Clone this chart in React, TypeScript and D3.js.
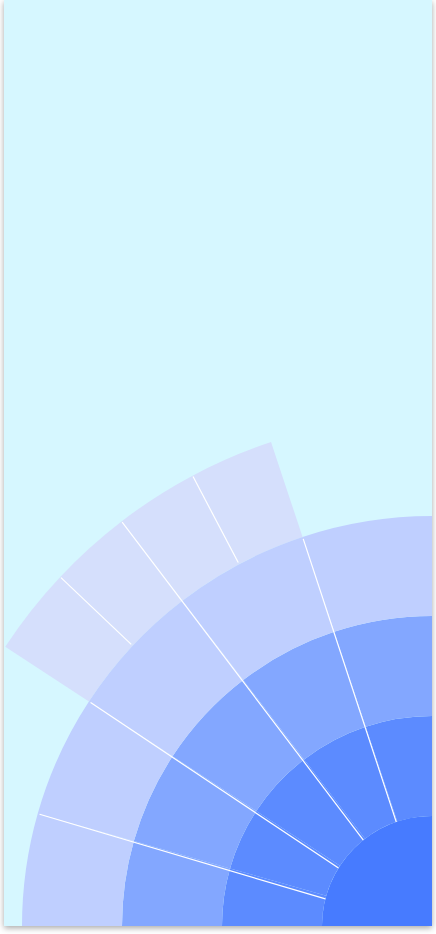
import React from "react";
import * as d3 from "d3";

// ---- data ----
const sectorNames = ["A", "B", "C", "D", "E", "Rest"];
const sectorValues = [15.9, 17.3, 19.3, 19.1, 18.4, 270];
const outerParents = ["C", "C", "D", "D"];
const outerValues = [10.0, 9.3, 9.5, 9.6];

// ---- layout ----
const W = 428;
const H = 926;
const ringRadii = [0, 110, 210, 310, 410, 510];
const pivotY = 4.5;
const coreColor = "#477bff";
const ringColors = ["#5c8bff", "#83a7ff", "#bfcfff"];
const outerColor = "#d5dffc";
const bg = "#d6f7ff";

export default function App() {
  const total = d3.sum(sectorValues);
  const span = d3.scaleLinear().domain([0, total]).range([0, 2 * Math.PI]);

  const pie = d3
    .pie<number>()
    .sort(null)
    .startAngle(-Math.PI / 2)
    .endAngle((3 * Math.PI) / 2);
  const sectors = pie(sectorValues).map((p, i) => ({ ...p, name: sectorNames[i] }));

  const offsets: Record<string, number> = {};
  const outer = outerValues.map((v, i) => {
    const parent = sectors.find((s) => s.name === outerParents[i])!;
    const used = offsets[parent.name] ?? 0;
    const startAngle = parent.startAngle + span(used);
    const endAngle = startAngle + span(v);
    offsets[parent.name] = used + v;
    return { startAngle, endAngle };
  });

  const arc = d3.arc<any>();
  const pt = (a: number, r: number) => [Math.sin(a) * r, -Math.cos(a) * r];

  // separator line hitting the outer circle at angle a, running back toward a pivot just below the centre
  const chord = (a: number, r1: number, r2: number) => {
    const [qx, qy] = pt(a, r2);
    const px = 0, py = pivotY;
    const len = Math.hypot(qx - px, qy - py);
    const dx = (qx - px) / len, dy = (qy - py) / len;
    const pd = px * dx + py * dy;
    const t = -pd + Math.sqrt(pd * pd - (px * px + py * py) + r1 * r1);
    return { x1: px + t * dx, y1: py + t * dy, x2: qx, y2: qy };
  };

  const sectorLines = sectors.slice(1, -1).map((s) => ({
    a: s.startAngle,
    r2: outerParents.includes(s.name) && outerParents.includes(sectors[sectors.indexOf(s) - 1].name) ? ringRadii[5] - 1 : ringRadii[4] - 2,
  }));
  const outerLines = outer
    .map((o, i) => (i > 0 && Math.abs(outer[i - 1].endAngle - o.startAngle) < 1e-9 && outerParents[i] === outerParents[i - 1] ? o.startAngle : null))
    .filter((a) => a !== null) as number[];

  return (
    <div
      style={{
        position: "absolute",
        left: 4,
        top: 0,
        width: W,
        height: H,
        background: bg,
        boxShadow: "0 2px 6px rgba(0,0,0,0.35)",
        overflow: "hidden",
      }}
    >
      <svg width={W} height={H} style={{ display: "block" }}>
        <g transform={`translate(${W},${H})`}>
          {outer.map((o, i) => (
            <path
              key={"o" + i}
              d={arc({ innerRadius: ringRadii[4], outerRadius: ringRadii[5], startAngle: o.startAngle, endAngle: o.endAngle })!}
              fill={outerColor}
            />
          ))}
          {ringColors.map((c, k) =>
            sectors.map((s, i) => (
              <path
                key={`r${k}-${i}`}
                d={arc({ innerRadius: ringRadii[k + 1], outerRadius: ringRadii[k + 2], startAngle: s.startAngle, endAngle: s.endAngle })!}
                fill={c}
              />
            ))
          )}
          <path d={arc({ innerRadius: 0, outerRadius: ringRadii[1], startAngle: 0, endAngle: 2 * Math.PI })!} fill={coreColor} />
          {sectorLines.map((l, i) => (
            <line key={"s" + i} {...chord(l.a, ringRadii[1], l.r2)} stroke="#fff" strokeWidth={1.2} />
          ))}
          {outerLines.map((a, i) => {
            const c = chord(a, ringRadii[4] + 2, ringRadii[5] - 1);
            return <line key={"ol" + i} {...c} stroke="#fff" strokeWidth={1.2} />;
          })}
        </g>
      </svg>
    </div>
  );
}
